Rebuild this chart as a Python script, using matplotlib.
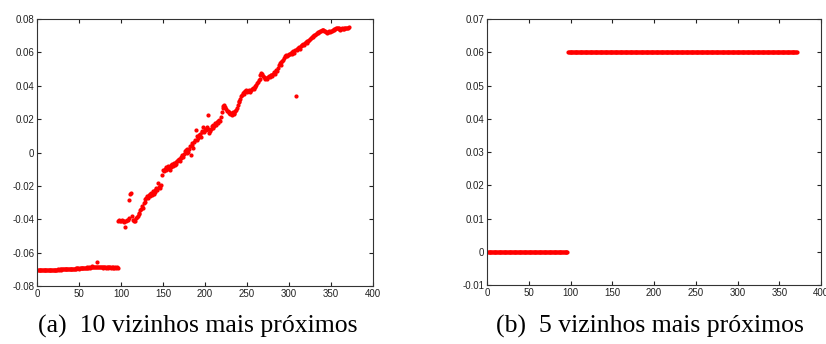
import numpy as np
from matplotlib import pyplot as plt

# left panel: 10 nearest neighbours, one value per sample (x = 1..371)
knn10_flat = [
    -0.0705, -0.0705, -0.0704, -0.0705, -0.0705, -0.0704, -0.0705, -0.0705, -0.0704, -0.0705,
    -0.0705, -0.0704, -0.0705, -0.0704, -0.0705, -0.0704, -0.0704, -0.0705, -0.0704, -0.0704,
    -0.0703, -0.0704, -0.0702, -0.0703, -0.0701, -0.0702, -0.0700, -0.0702, -0.0701, -0.0700,
    -0.0701, -0.0699, -0.0700, -0.0698, -0.0700, -0.0699, -0.0701, -0.0698, -0.0699, -0.0697,
    -0.0699, -0.0697, -0.0698, -0.0696, -0.0698, -0.0695, -0.0697, -0.0695, -0.0694, -0.0696,
    -0.0694, -0.0695, -0.0692, -0.0694, -0.0693, -0.0691, -0.0693, -0.0690, -0.0692, -0.0689,
    -0.0691, -0.0688, -0.0690, -0.0687, -0.0689, -0.0680, -0.0688, -0.0686, -0.0689, -0.0684,
    -0.0655, -0.0686, -0.0688, -0.0684, -0.0689, -0.0687, -0.0689, -0.0688, -0.0690, -0.0688,
    -0.0689, -0.0690, -0.0688, -0.0689, -0.0690, -0.0689, -0.0688, -0.0690, -0.0689, -0.0690,
    -0.0689, -0.0690, -0.0689, -0.0690, -0.0689, -0.0690,
]
knn10_rise = [
    -0.0410, -0.0406, -0.0412, -0.0410,
    -0.0407, -0.0413, -0.0409, -0.0415, -0.0444, -0.0410, -0.0406, -0.0402, -0.0394, -0.0285,
    -0.0250, -0.0243, -0.0378, -0.0404, -0.0412, -0.0402, -0.0408, -0.0392, -0.0386, -0.0380,
    -0.0366, -0.0362, -0.0346, -0.0340, -0.0322, -0.0334, -0.0302, -0.0295, -0.0278, -0.0270,
    -0.0258, -0.0270, -0.0252, -0.0248, -0.0262, -0.0240, -0.0252, -0.0232, -0.0246, -0.0226,
    -0.0234, -0.0212, -0.0224, -0.0180, -0.0206, -0.0198, -0.0212, -0.0194, -0.0135, -0.0105,
    -0.0110, -0.0096, -0.0104, -0.0088, -0.0097, -0.0080, -0.0090, -0.0105, -0.0084, -0.0076,
    -0.0070, -0.0082, -0.0064, -0.0076, -0.0058, -0.0070, -0.0053, -0.0046, -0.0038, -0.0052,
    -0.0033, -0.0026, -0.0013, -0.0027, -0.0006, 0.0007, 0.0014, -0.0004, 0.0020, 0.0006,
    0.0024, 0.0037, -0.0015, 0.0044, 0.0057, 0.0028, 0.0064, 0.0077, 0.0135, 0.0078,
    0.0097, 0.0086, 0.0107, 0.0114, 0.0096, 0.0122, 0.0132, 0.0155, 0.0123, 0.0142,
    0.0136, 0.0152, 0.0143, 0.0225, 0.0120, 0.0132, 0.0143, 0.0157, 0.0146, 0.0167,
    0.0158, 0.0174, 0.0166, 0.0182, 0.0176, 0.0190, 0.0197, 0.0188, 0.0212, 0.0240,
    0.0264, 0.0280, 0.0287, 0.0270, 0.0262, 0.0248, 0.0247, 0.0236, 0.0244, 0.0230,
    0.0237, 0.0226, 0.0242, 0.0234, 0.0230, 0.0247, 0.0252, 0.0268, 0.0287, 0.0300,
    0.0307, 0.0320, 0.0337, 0.0346, 0.0357, 0.0362, 0.0350, 0.0367, 0.0372, 0.0360,
    0.0370, 0.0377, 0.0370, 0.0363, 0.0372, 0.0380, 0.0387, 0.0378, 0.0394, 0.0400,
    0.0407, 0.0417, 0.0424, 0.0432, 0.0442, 0.0462, 0.0478, 0.0470, 0.0458, 0.0450,
    0.0446, 0.0440, 0.0447, 0.0440, 0.0452, 0.0457, 0.0450, 0.0464, 0.0467, 0.0458,
    0.0472, 0.0480, 0.0473, 0.0490, 0.0497, 0.0488, 0.0507, 0.0522, 0.0535, 0.0526,
    0.0542, 0.0550, 0.0557, 0.0564, 0.0577, 0.0580, 0.0584, 0.0578, 0.0587, 0.0590,
    0.0592, 0.0597, 0.0590, 0.0600, 0.0607, 0.0598, 0.0612, 0.0340, 0.0617, 0.0620,
    0.0624, 0.0630, 0.0623, 0.0637, 0.0642, 0.0647, 0.0652, 0.0646, 0.0657, 0.0662,
    0.0656, 0.0667, 0.0670, 0.0674, 0.0680, 0.0687, 0.0690, 0.0694, 0.0700, 0.0704,
    0.0707, 0.0710, 0.0714, 0.0718, 0.0722, 0.0724, 0.0727, 0.0730, 0.0734, 0.0737,
    0.0735, 0.0730, 0.0726, 0.0722, 0.0718, 0.0724, 0.0720, 0.0726, 0.0722, 0.0727,
    0.0730, 0.0732, 0.0737, 0.0740, 0.0742, 0.0744, 0.0747, 0.0746, 0.0744, 0.0740,
    0.0737, 0.0740, 0.0744, 0.0742, 0.0740, 0.0744, 0.0747, 0.0745, 0.0747, 0.0748,
    0.0750,
]

# right panel: 5 nearest neighbours, two constant levels
knn5_low_value = 0.0
knn5_high_value = 0.06

caption_a = "(a)  10 vizinhos mais próximos"
caption_b = "(b)  5 vizinhos mais próximos"

xticks = [0, 50, 100, 150, 200, 250, 300, 350, 400]
yticks_a = [-0.08, -0.06, -0.04, -0.02, 0, 0.02, 0.04, 0.06, 0.08]
ylabels_a = ["-0.08", "-0.06", "-0.04", "-0.02", "0", "0.02", "0.04", "0.06", "0.08"]
yticks_b = [-0.01, 0, 0.01, 0.02, 0.03, 0.04, 0.05, 0.06, 0.07]
ylabels_b = ["-0.01", "0", "0.01", "0.02", "0.03", "0.04", "0.05", "0.06", "0.07"]

y_a = np.array(knn10_flat + knn10_rise)
x_a = np.arange(1, len(y_a) + 1)
y_b = np.array([knn5_low_value] * len(knn10_flat) + [knn5_high_value] * len(knn10_rise))
x_b = np.arange(1, len(y_b) + 1)


def style_axes(ax, yticks, ylabels, ylim):
    ax.set_xlim(0, 400)
    ax.set_ylim(*ylim)
    ax.set_xticks(xticks)
    ax.set_xticklabels([str(t) for t in xticks])
    ax.set_yticks(yticks)
    ax.set_yticklabels(ylabels)
    ax.tick_params(direction="in", length=3, width=0.8, labelsize=7,
                   top=True, right=True, pad=2, colors="#222222")
    for s in ax.spines.values():
        s.set_color("#333333")
        s.set_linewidth(0.8)


plt.rcParams["font.family"] = ["Liberation Sans", "DejaVu Sans"]
fig = plt.figure(figsize=(8.26, 3.44), dpi=100)

ax1 = fig.add_axes([0.0448, 0.1686, 0.4068, 0.776])
ax1.plot(x_a, y_a, linestyle="none", marker=".", color="red", markersize=4)
style_axes(ax1, yticks_a, ylabels_a, (-0.08, 0.08))

ax2 = fig.add_axes([0.5896, 0.1715, 0.4044, 0.773])
ax2.plot(x_b, y_b, linestyle="none", marker=".", color="red", markersize=4)
style_axes(ax2, yticks_b, ylabels_b, (-0.01, 0.07))

fig.text(0.24, 0.05, caption_a, ha="center", va="center",
         family="Liberation Serif", fontsize=18.5)
fig.text(0.787, 0.05, caption_b, ha="center", va="center",
         family="Liberation Serif", fontsize=18.5)

fig.savefig("out.png", dpi=100)
